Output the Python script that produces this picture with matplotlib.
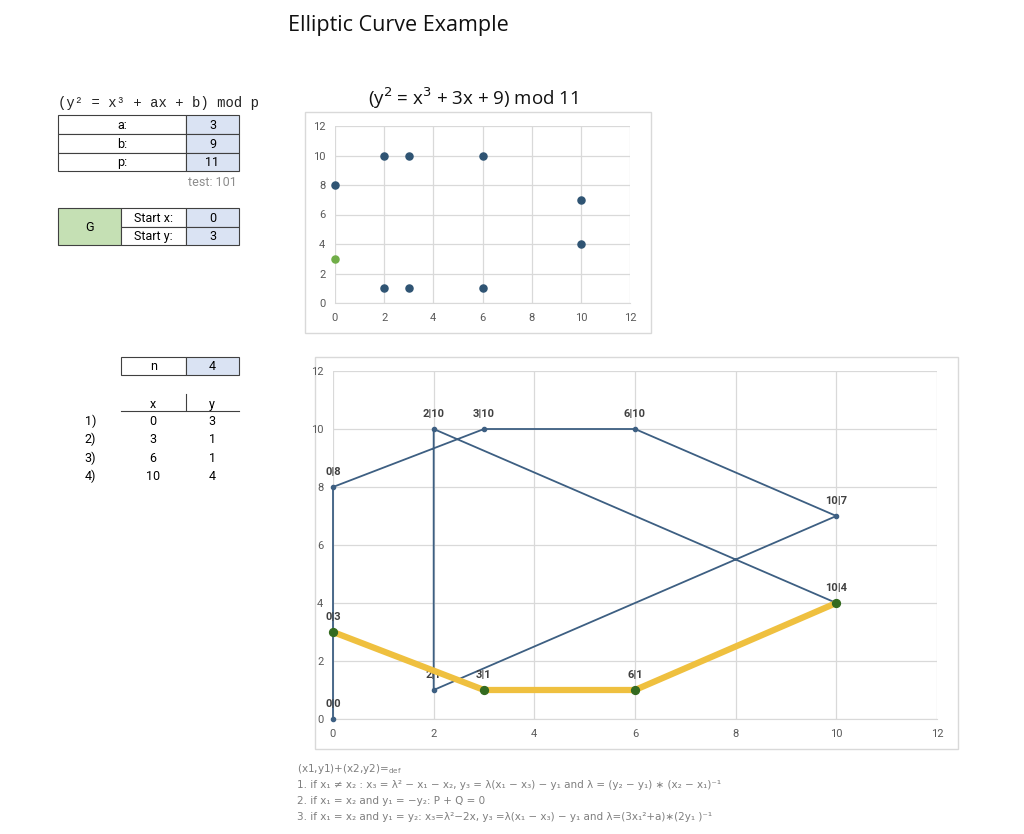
import matplotlib
matplotlib.use("Agg")
import matplotlib.pyplot as plt
from matplotlib.patches import Rectangle

W, H = 1024, 834

# curve parameters
params = ["a:", "b:", "p:"]
param_vals = [3, 9, 11]
test_val = 101
start_labels = ["Start x:", "Start y:"]
start_vals = [0, 3]
n_val = 4

# all points on the curve (top chart)
pts_x = [0, 2, 2, 3, 3, 6, 6, 10, 10, 0]
pts_y = [8, 1, 10, 1, 10, 1, 10, 4, 7, 3]
g_x, g_y = 0, 3

# multiples of G
mult_rows = ["1)", "2)", "3)", "4)"]
mult_x = [0, 3, 6, 10]
mult_y = [3, 1, 1, 4]

# connecting path (bottom chart)
path_x = [0, 0, 3, 6, 10, 2, 2, 10]
path_y = [0, 8, 10, 10, 7, 1, 10, 4]
label_x = [0, 0, 2, 3, 6, 10, 2, 3, 6, 10, 0]
label_y = [0, 8, 10, 10, 10, 7, 1, 1, 1, 4, 3]

BLUE = "#3d5f82"
DOT = "#2f5473"
GREEN = "#70ad47"
DKGREEN = "#336a1f"
YELLOW = "#efc03f"
GRID = "#d9d9d9"
TICK = "#595959"
CELLBLUE = "#dae3f3"
CELLGREEN = "#c5e0b4"

plt.rcParams['font.family'] = ['Roboto', 'DejaVu Sans']

fig = plt.figure(figsize=(W / 100, H / 100), dpi=100)


def px_axes(x0, y0, x1, y1):
    return fig.add_axes([x0 / W, 1 - y1 / H, (x1 - x0) / W, (y1 - y0) / H])


# overlay in pixel coordinates for tables and frames
bg = fig.add_axes([0, 0, 1, 1])
bg.set_xlim(0, W)
bg.set_ylim(H, 0)
bg.axis("off")


def cell(x0, y0, x1, y1, text, fc="white", ha="center", fs=9):
    bg.add_patch(Rectangle((x0, y0), x1 - x0, y1 - y0, fc=fc, ec="#404040", lw=0.8))
    bg.text((x0 + x1) / 2, (y0 + y1) / 2 + 0.5, text, ha=ha, va="center", fontsize=fs, color="#000000")


fig.text(398 / W, 1 - 26 / H, "Elliptic Curve Example", ha="center", va="center",
         fontsize=15.5, family=["Open Sans", "DejaVu Sans"], color="#111111")

bg.text(58, 103, "(y² = x³ + ax + b) mod p", ha="left", va="center", fontsize=10,
        family=["Liberation Mono", "DejaVu Sans Mono"], color="#222222")

rows = [115, 134, 153, 171]
for i, (lab, v) in enumerate(zip(params, param_vals)):
    cell(58, rows[i], 186, rows[i + 1], lab)
    cell(186, rows[i], 239, rows[i + 1], str(v), fc=CELLBLUE)
bg.text(237, 182, f"test: {test_val}", ha="right", va="center", fontsize=9, color="#8c8c8c")

grows = [208, 227, 245]
bg.add_patch(Rectangle((58, 208), 63, 37, fc=CELLGREEN, ec="#404040", lw=0.8))
bg.text(89.5, 227, "G", ha="center", va="center", fontsize=9)
for i, (lab, v) in enumerate(zip(start_labels, start_vals)):
    cell(121, grows[i], 186, grows[i + 1], lab)
    cell(186, grows[i], 239, grows[i + 1], str(v), fc=CELLBLUE)

cell(121, 357, 186, 375, "n")
cell(186, 357, 239, 375, str(n_val), fc=CELLBLUE)

bg.text(153, 404, "x", ha="center", va="center", fontsize=9)
bg.text(212, 404, "y", ha="center", va="center", fontsize=9)
bg.plot([186, 186], [394, 410], color="#404040", lw=0.8)
bg.plot([121, 239], [411, 411], color="#404040", lw=0.8)
for i, (r, xv, yv) in enumerate(zip(mult_rows, mult_x, mult_y)):
    yy = 421 + i * 18.5
    bg.text(96, yy, r, ha="right", va="center", fontsize=9)
    bg.text(153, yy, str(xv), ha="center", va="center", fontsize=9)
    bg.text(212, yy, str(yv), ha="center", va="center", fontsize=9)

# chart frames
bg.add_patch(Rectangle((305, 112), 346, 221, fc="none", ec=GRID, lw=1))
bg.add_patch(Rectangle((315, 357), 643, 392, fc="none", ec=GRID, lw=1))


def style(ax):
    ax.set_xlim(0, 12)
    ax.set_ylim(0, 12)
    ax.set_xticks(range(0, 13, 2))
    ax.set_yticks(range(0, 13, 2))
    ax.grid(True, color=GRID, lw=0.9)
    ax.set_axisbelow(True)
    for s in ax.spines.values():
        s.set_visible(False)
    ax.spines["bottom"].set_visible(True)
    ax.spines["bottom"].set_color(GRID)
    ax.tick_params(length=0, labelsize=8, labelcolor=TICK, pad=7)
    ax.patch.set_alpha(0)


# top chart
ax1 = px_axes(335, 126, 630, 303)
style(ax1)
ax1.scatter(pts_x[:-1], pts_y[:-1], s=26, color=DOT, zorder=3, clip_on=False)
ax1.scatter([g_x], [g_y], s=26, color=GREEN, zorder=3, clip_on=False)
fig.text(473 / W, 1 - 98 / H, "(y$^2$ = x$^3$ + 3x + 9) mod 11", ha="center", va="center",
         fontsize=13.5, family=["Open Sans", "DejaVu Sans"], color="#111111")

# bottom chart
ax2 = px_axes(333, 371, 937, 719)
style(ax2)
ax2.plot(path_x, path_y, color=BLUE, lw=1.3, marker="o", ms=3, zorder=3, clip_on=False)
ax2.plot(mult_x, mult_y, color=YELLOW, lw=4.5, solid_capstyle="butt", zorder=4)
ax2.scatter(mult_x, mult_y, s=32, color=DKGREEN, zorder=5, clip_on=False)
for lx, ly in zip(label_x, label_y):
    ax2.annotate(f"{lx}|{ly}", (lx, ly), xytext=(0, 7), textcoords="offset points",
                 ha="center", va="bottom", fontsize=8, color="#404040", fontweight="bold")

# addition rules
rules = [
    "(x1,y1)+(x2,y2)=$_{\\mathrm{def}}$",
    "1. if x₁ ≠ x₂ : x₃ = λ² − x₁ − x₂, y₃ = λ(x₁ − x₃) − y₁ and λ = (y₂ − y₁) ∗ (x₂ − x₁)⁻¹",
    "2. if x₁ = x₂ and y₁ = −y₂: P + Q = 0",
    "3. if x₁ = x₂ and y₁ = y₂: x₃=λ²−2x, y₃ =λ(x₁ − x₃) − y₁ and λ=(3x₁²+a)∗(2y₁ )⁻¹",
]
for i, t in enumerate(rules):
    bg.text(297, 769 + i * 16, t, ha="left", va="center", fontsize=7.5, color="#7f7f7f",
            family=["DejaVu Sans"])

fig.savefig("out.png", dpi=100)
